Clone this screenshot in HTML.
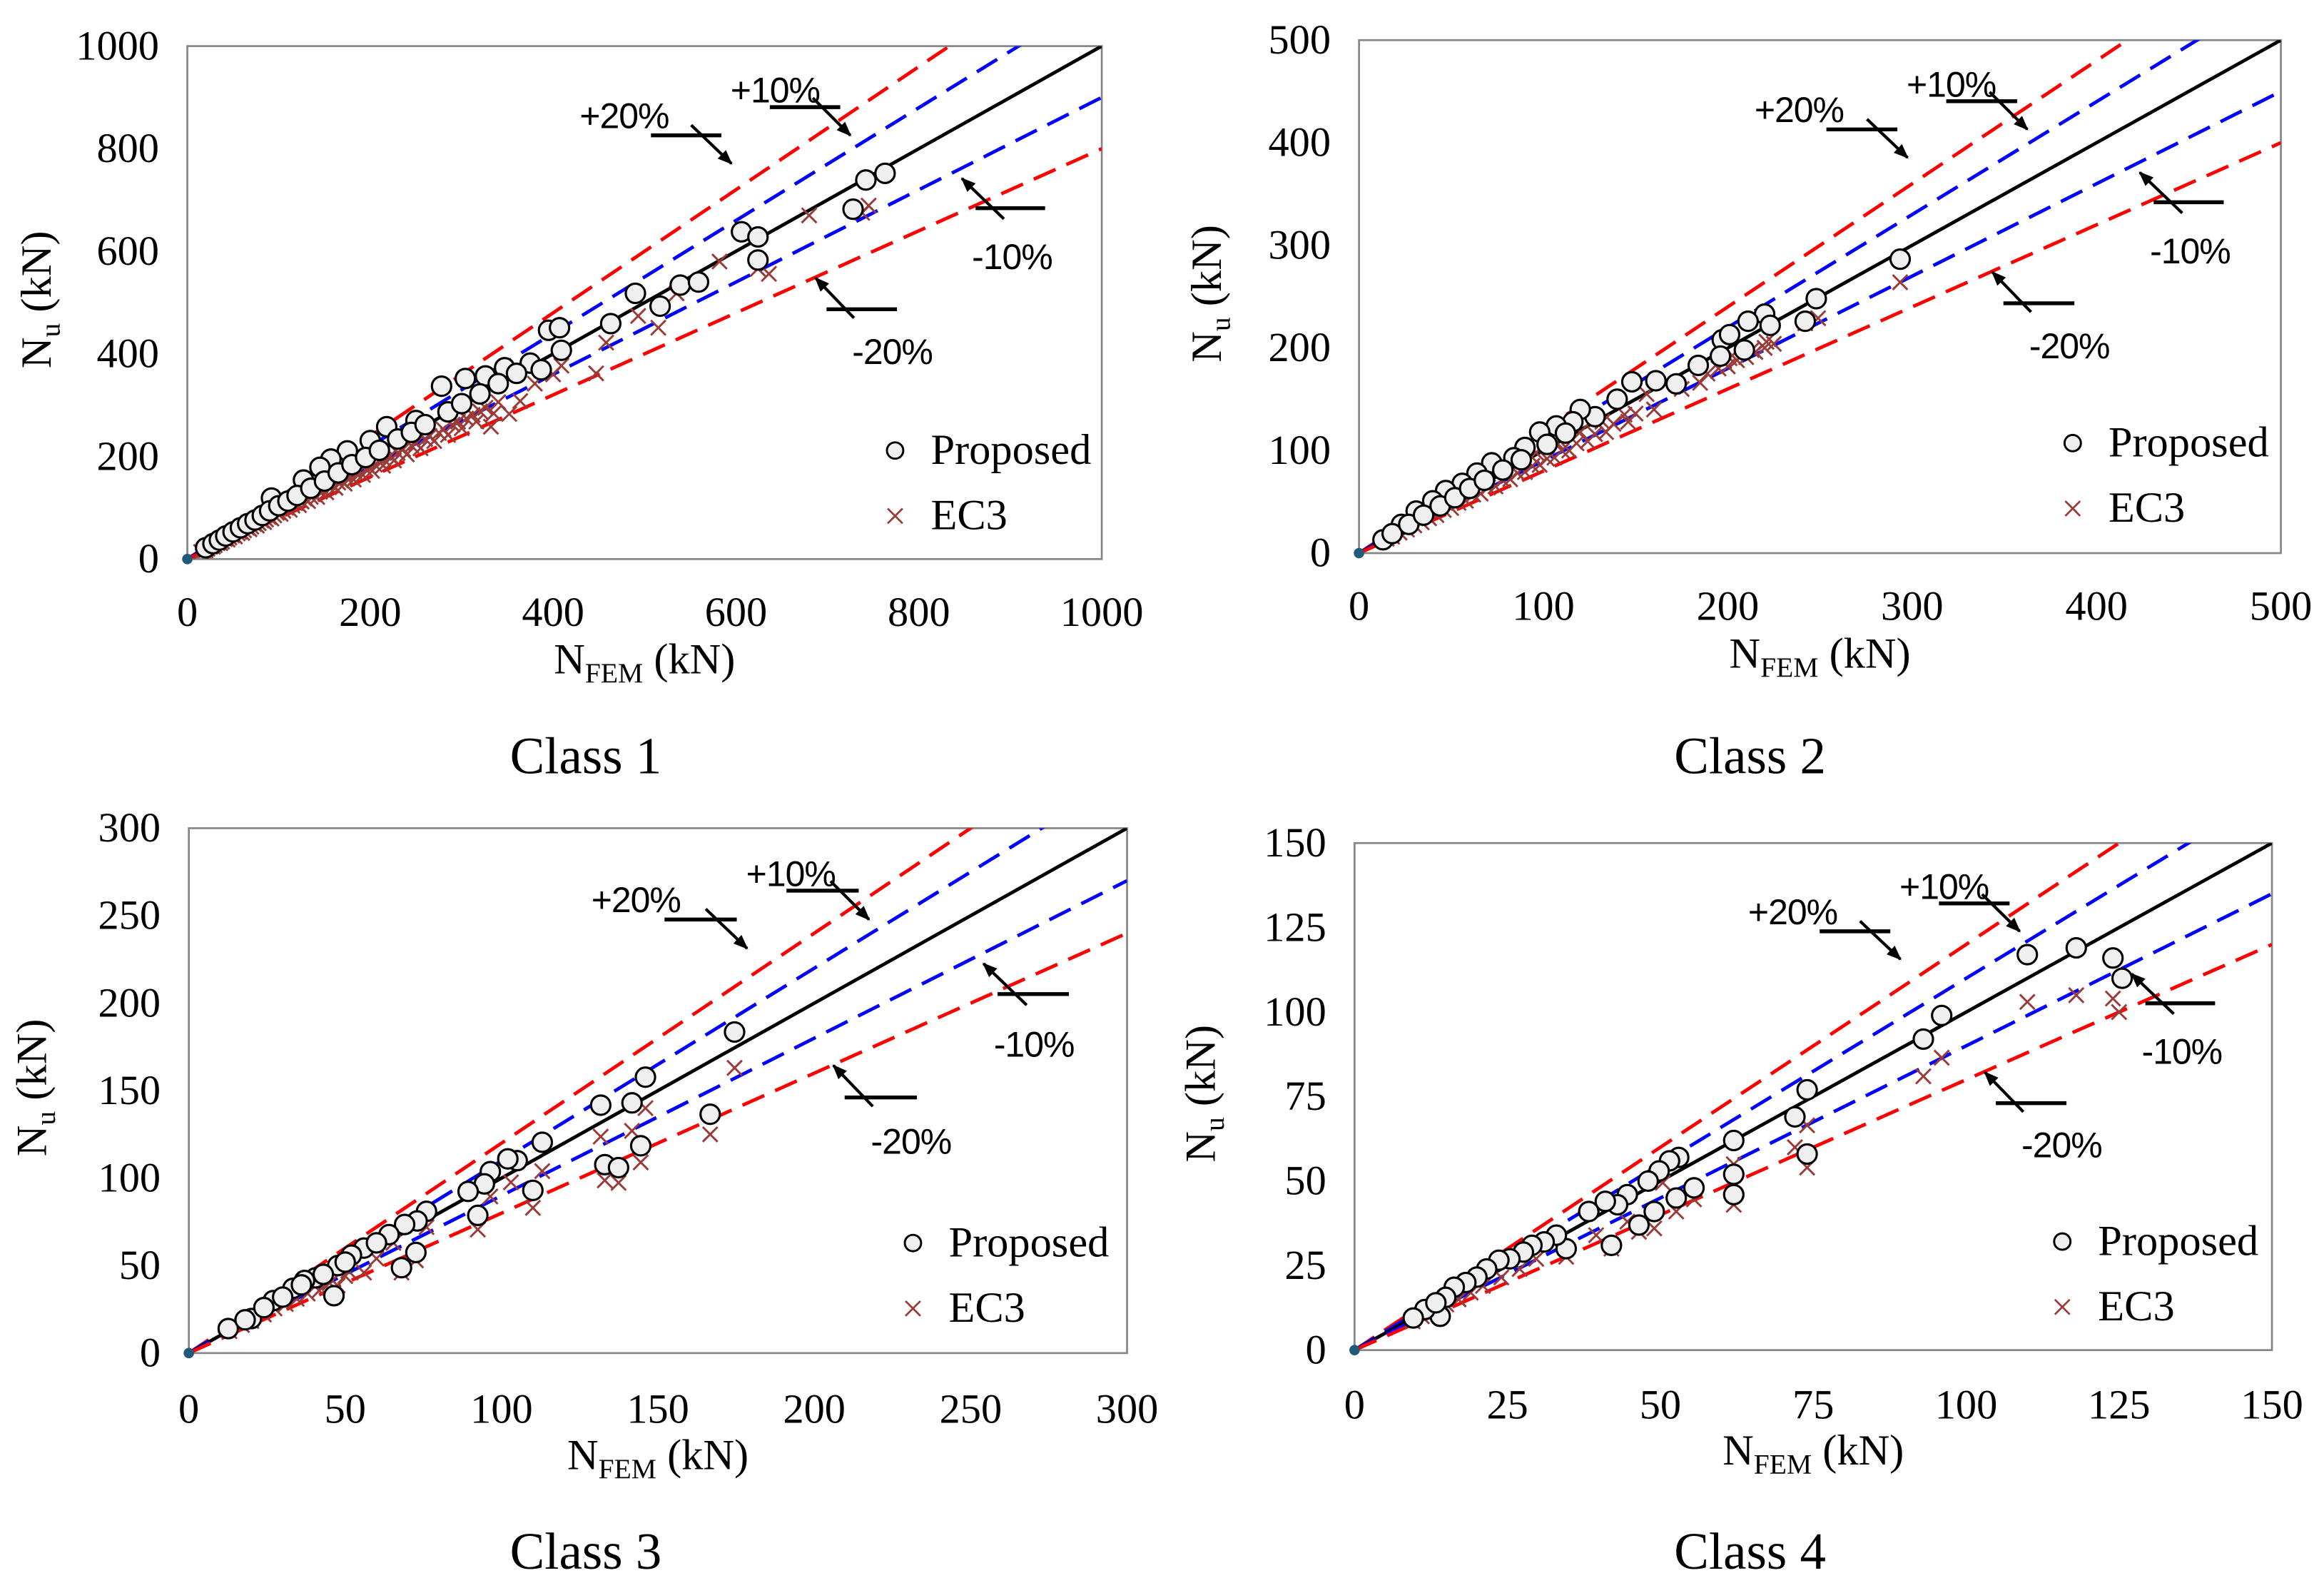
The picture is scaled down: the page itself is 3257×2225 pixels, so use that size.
<!DOCTYPE html>
<html><head><meta charset="utf-8"><style>
html,body{margin:0;padding:0;background:#fff;}
svg{display:block;}
</style></head><body>
<svg id="fig" xmlns="http://www.w3.org/2000/svg" width="3257" height="2225" viewBox="0 0 1563 1068" preserveAspectRatio="none">
<defs>
<marker id="ah" viewBox="0 0 10 10" refX="9" refY="5" markerWidth="5" markerHeight="5" orient="auto"><path d="M0,1 L10,5 L0,9 z" fill="#000"/></marker>
</defs>
</svg>
<script>
// ---- data: Class 1 ----
const c1PropX=[763,742,728,606,624,624,490,517,539,559,463,395,407,409,375,387,347,326,304,278,218,250,200,175,157,145,127,92,20,28,35,42,50,58,66,74,82,90,100,110,120,135,150,165,180,195,210,230,245,260,285,300,320,340,360];
const c1PropY=[752,739,682,638,628,583,518,493,534,540,459,446,451,407,382,369,373,357,352,337,258,270,231,211,195,179,154,119,22,30,37,45,53,61,69,76,85,94,104,113,124,138,152,168,184,198,212,234,247,262,287,303,322,342,362];
const c1EcX=[745,738,680,636,624,582,535,515,493,447,458,409,364,352,332,15,22,30,38,46,55,62,70,78,86,95,105,115,125,135,145,155,165,175,185,195,205,215,230,245,260,275,290,305,320,340,380,400,
 18,25,33,41,49,57,65,73,81,89,98,108,118,128,138,148,158,168,178,188,198,210,222,236,250,265,280,296,312,326,
 20,28,36,44,52,60,68,76,84,92,102,112,122,132,142,152,162,172,182,192,202,214,226,240,255,270,285,300,316,335];
const c1EcY=[689,675,670,556,566,580,518,451,474,362,422,377,308,283,258,14,20,27,34,42,50,56,63,70,77,85,94,104,112,121,131,140,149,157,166,175,184,194,207,221,234,246,262,274,288,306,342,360,
 17,24,31,39,46,53,61,68,75,82,90,100,109,118,126,135,144,153,162,171,180,190,201,214,226,240,253,268,281,295,
 17,24,31,38,44,51,58,65,72,79,88,96,105,113,121,130,139,147,155,164,172,182,192,204,216,230,242,255,268,284];
// ---- data: Class 2 ----
const c2PropX=[293.5,248,242,220,211,223,209,197,201,196,184,172,161,148,140,128,120,116,107,98,90,84,72,64,56,47,40,31,23,13,18,27,35,44,52,60,68,78,88,102,112];
const c2PropY=[286.5,248,226,233,226,222,198,208,213,192,183,165,168,167,150,133,140,128,124,118,103,93,88,78,68,61,51,41,28,13,19,28,37,46,54,63,71,81,91,106,117];
const c2EcX=[293.5,249,242,221,213,201,189,156,144,132,120,107,96,15,22,30,38,46,54,62,70,78,86,94,102,110,118,128,138,150,175,195,205,215,225,
 18,26,34,42,50,58,66,74,82,90,98,106,114,124,134,146,160,185,200,210,220];
const c2EcY=[264,229,224,206,198,190,175,155,135,128,118,108,98,14,20,27,34,42,49,57,64,71,78,85,92,100,107,116,126,136,160,180,188,196,204,
 16,23,30,37,44,51,58,65,72,79,86,93,100,109,118,128,140,166,182,191,200];
// ---- data: Class 3 ----
const c3PropX=[174.5,146,141.7,131.7,144.5,133,137.4,166.7,113,105,102,96.4,94.5,89.3,92.4,110,76,73,69,64,68,72.6,56,52,47.6,46.4,40.5,37,33.3,27,20,12.6,18,24,30,36,43,50,60];
const c3PropY=[183.5,157.7,143,141.7,118.5,107.7,106,136.5,120.5,110,111,103.7,96.7,92.4,78.7,93,81,75.5,73.5,67.7,48.8,57.5,60,56,50,32.8,43,41.5,37,30,19.7,14,19,26,32,39,45,52,63];
const c3EcX=[174.5,146,141.7,131.7,144.5,133,137.4,166.7,113,103,96.4,92.4,110,76,68,72.6,65.4,56,51,47.6,41.7,34.5,27.4,20,13,17,24,31,38,45,50,60];
const c3EcY=[163,140,127,123.7,109,98.7,97.3,125,104,97.6,89.5,70.6,83,72,46,53,63,46,47,38.6,35.7,31,25.5,18.3,12.5,16,22,28,34,40,44,54];
// ---- data: Class 4 ----
const c4PropX=[110,118,124,125.5,96,93,74,72,74,62,62,62,55.5,53,51.5,49.8,52.6,49,48,46.5,44.6,43,41,42,38.3,34.6,33,31,29,27.6,25.4,23.6,21.6,20,18.2,16.3,14.9,14,11.5,9.6,13.3];
const c4PropY=[117,119,116,110,99,92,77,69,58,62,52,46,48,57,56,53,45,41,50,37,46,43,44,31,41,30,34,32,31,29,27,26.6,24,21.6,20,18.6,15.6,10,12,9.5,14];
const c4EcX=[110,118,124,125,96,93,74,74,72,62,62,55.5,52.6,50.4,49,46.5,44.6,42,39.5,34.6,29.7,27,24,21,19,17,15,13,11,9.5];
const c4EcY=[103,105,104,100,86.5,81,66.5,54,60,55,43,44.6,41,49.5,36,35,38,30,34,27.6,27,24,21.5,19,17,15,13.5,11.5,10,8.5];
// ---- axis ticks ----
const c1Ticks=[0,200,400,600,800,1000];
const c2Ticks=[0,100,200,300,400,500];
const c3Ticks=[0,50,100,150,200,250,300];
const c4Ticks=[0,25,50,75,100,125,150];
const refFactors=[1.2,1.1,1.0,0.9,0.8];
const refColors=['#ff0000','#0000ff','#000000','#0000ff','#ff0000'];
const annLabels=['+20%','+10%','-10%','-20%'];

const NS='http://www.w3.org/2000/svg';
const svg=document.getElementById('fig');
function mk(tag,attrs,parent){const e=document.createElementNS(NS,tag);for(const k in attrs)e.setAttribute(k,attrs[k]);(parent||svg).appendChild(e);return e;}

const panels=[
 {name:'class-1',L:126,T:31,R:741,B:376,max:1000,ticks:c1Ticks,px:c1PropX,py:c1PropY,ex:c1EcX,ey:c1EcY,title:'Class 1',cx:394,cy:520,ytx:25,xtBase:421,xtitBase:453,leg:[602,303]},
 {name:'class-2',L:914,T:27,R:1534,B:372,max:500,ticks:c2Ticks,px:c2PropX,py:c2PropY,ex:c2EcX,ey:c2EcY,title:'Class 2',cx:1177,cy:520,ytx:812,xtBase:417,xtitBase:449,leg:[1394,298]},
 {name:'class-3',L:127,T:557,R:758,B:910,max:300,ticks:c3Ticks,px:c3PropX,py:c3PropY,ex:c3EcX,ey:c3EcY,title:'Class 3',cx:394,cy:1055,ytx:22,xtBase:957,xtitBase:988,leg:[614,836]},
 {name:'class-4',L:911,T:567,R:1528,B:908,max:150,ticks:c4Ticks,px:c4PropX,py:c4PropY,ex:c4EcX,ey:c4EcY,title:'Class 4',cx:1177,cy:1055,ytx:808,xtBase:954,xtitBase:985,leg:[1387,835]}
];
const ann=[ // fractions of plot box
 {t:[.429,.160],l:[.507,.584,.174],a:[.551,.154,.595,.229]},
 {t:[.594,.110],l:[.637,.714,.119],a:[.684,.101,.725,.174]},
 {t:[.858,.435],l:[.862,.938,.316],a:[.893,.337,.847,.258]},
 {t:[.727,.620],l:[.699,.776,.513],a:[.729,.530,.687,.452]}
];
const serif='"Liberation Serif", serif', sans='"Liberation Sans", sans-serif';

panels.forEach((p,pi)=>{
  const g=mk('g',{});
  
  
  const W=p.R-p.L,H=p.B-p.T;
  const sx=v=>p.L+v/p.max*W, sy=v=>p.B-v/p.max*H;
  const cid='clip'+pi;
  const cp=mk('clipPath',{id:cid},g);mk('rect',{x:p.L,y:p.T,width:W,height:H},cp);
  const frame=mk('rect',{x:p.L,y:p.T,width:W,height:H,fill:'#fff',stroke:'#868686','stroke-width':1.3},g);
  
  
  p.ticks.forEach(t=>{
    const yl=mk('text',{x:p.L-19,y:sy(t)+9,'text-anchor':'end','font-family':serif,'font-size':28,fill:'#000'},g);
    yl.textContent=t;
    
    
    const xl=mk('text',{x:sx(t),y:p.xtBase,'text-anchor':'middle','font-family':serif,'font-size':28,fill:'#000'},g);
    xl.textContent=t;
    
    
  });
  const yt=mk('text',{x:0,y:0,transform:`translate(${p.ytx+9},${(p.T+p.B)/2-2}) rotate(-90)`,'text-anchor':'middle','font-family':serif,'font-size':29,fill:'#000'},g);
  yt.innerHTML='N<tspan font-size="19" dy="6">u</tspan><tspan dy="-6"> (kN)</tspan>';
  
  
  const xt=mk('text',{x:(p.L+p.R)/2,y:p.xtitBase,'text-anchor':'middle','font-family':serif,'font-size':29,fill:'#000'},g);
  xt.innerHTML='N<tspan font-size="19" dy="6">FEM</tspan><tspan dy="-6"> (kN)</tspan>';
  
  
  const lg=mk('g',{'clip-path':`url(#${cid})`},g);
  refFactors.forEach((f,i)=>{
    const ln=mk('line',{x1:sx(0),y1:sy(0),x2:sx(p.max),y2:sy(p.max*f),stroke:refColors[i],'stroke-width':2.3,'stroke-dasharray':f===1?'none':'16 8'},lg);
    
    
  });
  p.ex.forEach((x,i)=>{
    const cx=sx(x),cy=sy(p.ey[i]),s=5;
    const m=mk('path',{d:`M${cx-s},${cy-s}L${cx+s},${cy+s}M${cx-s},${cy+s}L${cx+s},${cy-s}`,stroke:'#9c3a38','stroke-width':1.4,fill:'none'},lg);
    
    
  });
  p.px.forEach((x,i)=>{
    const c=mk('circle',{cx:sx(x),cy:sy(p.py[i]),r:6.5,fill:'#efefef',stroke:'#000','stroke-width':1.5},lg);
    
    
  });
  const o=mk('circle',{cx:p.L,cy:p.B,r:3.5,fill:'#1f5a7a'},g);
  
  
  ann.forEach((a,i)=>{
    const tx=mk('text',{x:p.L+a.t[0]*W,y:p.T+a.t[1]*H,'font-family':sans,'font-size':24,'letter-spacing':-0.5,fill:'#000'},g);
    tx.textContent=annLabels[i];
    
    
    const ul=mk('line',{x1:p.L+a.l[0]*W,x2:p.L+a.l[1]*W,y1:p.T+a.l[2]*H,y2:p.T+a.l[2]*H,stroke:'#000','stroke-width':2.6},g);
    
    
    const ar=mk('line',{x1:p.L+a.a[0]*W,y1:p.T+a.a[1]*H,x2:p.L+a.a[2]*W,y2:p.T+a.a[3]*H,stroke:'#000','stroke-width':2,'marker-end':'url(#ah)'},g);
    
    
  });
  const [lx,ly]=p.leg;
  const lc=mk('circle',{cx:lx,cy:ly,r:5.5,fill:'#efefef',stroke:'#000','stroke-width':1.4},g);
  
  
  const lt=mk('text',{x:lx+24,y:ly+9,'font-family':serif,'font-size':29,fill:'#000'},g);
  lt.textContent='Proposed';
  
  
  const ey=ly+44,s=5;
  const lm=mk('path',{d:`M${lx-s},${ey-s}L${lx+s},${ey+s}M${lx-s},${ey+s}L${lx+s},${ey-s}`,stroke:'#9c3a38','stroke-width':1.3},g);
  
  
  const le=mk('text',{x:lx+24,y:ey+9,'font-family':serif,'font-size':29,fill:'#000'},g);
  le.textContent='EC3';
  
  
  const ct=mk('text',{x:p.cx,y:p.cy,'text-anchor':'middle','font-family':serif,'font-size':35,fill:'#000'},g);
  ct.textContent=p.title;
  
  
});
</script>
</body></html>
